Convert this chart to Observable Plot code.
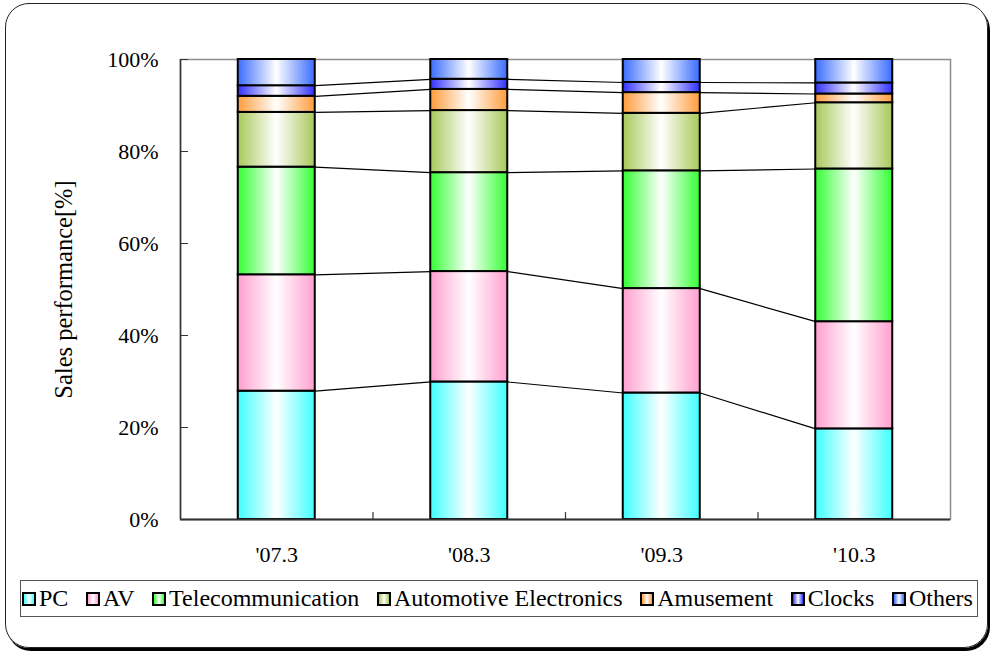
<!DOCTYPE html>
<html>
<head>
<meta charset="utf-8">
<script src="https://cdn.jsdelivr.net/npm/d3@7"></script>
<script src="https://cdn.jsdelivr.net/npm/@observablehq/plot@0.6"></script>
<style>
  html, body { margin: 0; padding: 0; background: #fff; }
  body { font-family: "Liberation Serif", "DejaVu Serif", serif; color: #000; }
  #page { position: relative; width: 993px; height: 653px; overflow: hidden; }
  #frame { position: absolute; left: 5px; top: 3px; width: 983px; height: 645px; border: 1.5px solid #222;
           border-radius: 24px; box-shadow: 2px 3px 0 #000; box-sizing: border-box; }
  #chart { position: absolute; left: 0; top: 0; }
  #legend { position: absolute; left: 20px; top: 580px; width: 958px; height: 37px; border: 1px solid #555;
            box-sizing: border-box; display: flex; align-items: center; justify-content: space-between;
            padding: 0 4px 0 1px; font-size: 24px; white-space: nowrap; background: #fff; }
  .item { display: flex; align-items: center; gap: 3px; }
  .sw { width: 14px; height: 14px; border: 2px solid #000; box-sizing: border-box; }
</style>
</head>
<body>
<div id="page">
  <div id="frame"></div>
  <div id="chart"></div>
  <div id="legend"></div>
</div>
<script>
// ---- data ----
const categories = ["'07.3", "'08.3", "'09.3", "'10.3"];
const seriesNames = ["PC", "AV", "Telecommunication", "Automotive Electronics", "Amusement", "Clocks", "Others"];
const pc        = [27.9, 29.9, 27.5, 19.7];
const av        = [25.3, 24.0, 22.7, 23.3];
const telecom   = [23.4, 21.5, 25.6, 33.2];
const automotive= [11.9, 13.5, 12.5, 14.4];
const amusement = [3.5, 4.6, 4.5, 1.9];
const clocks    = [2.3, 2.2, 2.2, 2.4];
const others    = [5.7, 4.3, 5.0, 5.1];
const seriesColors = ["#3dffff", "#ff9fcf", "#33ff33", "#a8c85a", "#ff9c3c", "#3030ff", "#3a6cff"];
const yTicks = [0, 20, 40, 60, 80, 100];

const seriesValues = [pc, av, telecom, automotive, amusement, clocks, others];
const serifFont = "'Liberation Serif', 'DejaVu Serif', serif";

// stacked rows
const rows = [];
categories.forEach((c, i) => {
  let base = 0;
  seriesNames.forEach((s, k) => {
    const v = seriesValues[k][i];
    rows.push({cat: c, i, series: s, k, y1: base, y2: base + v});
    base += v;
  });
});

const half = 0.2; // half bar width in category units
const links = [];
for (let k = 0; k < seriesNames.length - 1; k++) {
  for (let i = 0; i < categories.length - 1; i++) {
    const a = rows.find(r => r.i === i && r.k === k);
    const b = rows.find(r => r.i === i + 1 && r.k === k);
    links.push({x1: a.i + half, x2: b.i - half, y1: a.y2, y2: b.y2});
  }
}

const lineShape = {draw(context, l) { context.moveTo(0, 0); context.lineTo(0, -l); }};

const plot = Plot.plot({
  width: 993,
  height: 575,
  marginLeft: 180,
  marginRight: 43,
  marginTop: 59,
  marginBottom: 56,
  x: {type: "linear", domain: [-0.5, categories.length - 0.5], axis: null},
  y: {domain: [0, 100], label: null, axis: null},
  style: {fontFamily: serifFont, fontSize: "22px", color: "#000", background: "transparent", overflow: "visible"},
  marks: [
    Plot.frame({stroke: "#8c8c8c", strokeWidth: 1.5}),
    Plot.link(links, {x1: "x1", y1: "y1", x2: "x2", y2: "y2", stroke: "#000", strokeWidth: 1.2}),
    ...seriesNames.map((s, k) => Plot.rect(rows.filter(r => r.k === k), {
      x1: r => r.i - half, x2: r => r.i + half, y1: "y1", y2: "y2",
      fill: `url(#grad${k})`, stroke: "#000", strokeWidth: 2
    })),
    Plot.ruleX([-0.5], {stroke: "#333", strokeWidth: 1.5}),
    Plot.ruleY([0], {stroke: "#333", strokeWidth: 2}),
    Plot.vector(yTicks, {y: d => d, frameAnchor: "left", length: 7, rotate: 90, anchor: "start", shape: lineShape, stroke: "#333", strokeWidth: 1.2}),
    Plot.vector([0.5, 1.5, 2.5], {x: d => d, frameAnchor: "bottom", length: 7, rotate: 0, anchor: "start", shape: lineShape, stroke: "#333", strokeWidth: 1.2}),
    Plot.axisY(yTicks, {tickSize: 0, tickPadding: 22, tickFormat: d => d + "%", fontSize: 22, label: null}),
    Plot.axisX(categories.map((c, i) => i), {tickSize: 0, tickPadding: 27, tickFormat: i => categories[i], fontSize: 22, label: null}),
    Plot.text(["Sales performance[%]"], {text: d => d, frameAnchor: "left", textAnchor: "middle", lineAnchor: "middle", dx: -116, rotate: -90, fontSize: 24.5})
  ]
});

const svg = d3.select(plot);
svg.style("font-family", serifFont);
const defs = svg.insert("defs", ":first-child");
seriesColors.forEach((c, k) => {
  const g = defs.append("linearGradient").attr("id", `grad${k}`)
    .attr("x1", "0").attr("x2", "1").attr("y1", "0").attr("y2", "0");
  g.append("stop").attr("offset", "0").attr("stop-color", c);
  g.append("stop").attr("offset", "0.5").attr("stop-color", "#fff");
  g.append("stop").attr("offset", "1").attr("stop-color", c);
});

document.getElementById("chart").appendChild(plot);

// legend
const legend = d3.select("#legend");
seriesNames.forEach((s, k) => {
  const it = legend.append("div").attr("class", "item");
  it.append("div").attr("class", "sw")
    .style("background", `linear-gradient(to right, ${seriesColors[k]}, #fff, ${seriesColors[k]})`);
  it.append("span").text(s);
});
</script>
</body>
</html>
